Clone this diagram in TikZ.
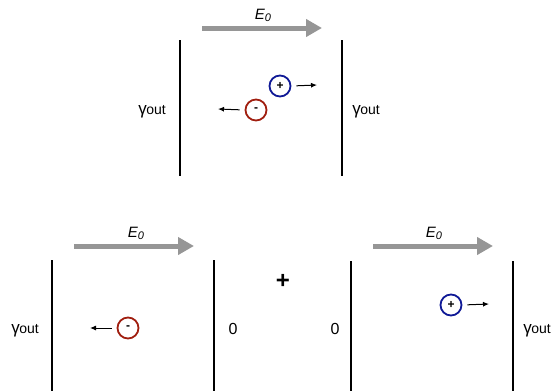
\documentclass[tikz,border=0pt]{standalone}
\usepackage{fontspec}
\setmainfont{Liberation Sans}
\usetikzlibrary{arrows.meta}
\definecolor{negred}{RGB}{160,30,15}
\definecolor{posblue}{RGB}{15,25,150}
\definecolor{fieldgray}{RGB}{150,150,150}
\newcommand{\gout}{{\fontsize{17}{17}\selectfont γ}\kern-0.5pt out}

\begin{document}
\begin{tikzpicture}[x=1pt,y=-1pt,plate/.style={line width=2pt},field/.style={line width=5pt,draw=fieldgray,-{Triangle[length=16pt,width=17pt]}},charge/.style={shape=circle,line width=1.8pt,minimum size=21pt,inner sep=0pt,font=\fontsize{12}{12}\selectfont\bfseries},chargeN/.style={charge,draw=negred},chargeP/.style={charge,draw=posblue},drift/.style={line width=1pt,-{Latex[length=6pt,width=5pt]}},lbl/.style={font=\fontsize{14}{16}\selectfont},efield/.style={font=\fontsize{15}{17}\selectfont\itshape}]
\def\dx{162};
\def\len{120};
\def\xa{180};
\def\xb{52};
\def\xc{351};

\useasboundingbox (0,0) rectangle (553,391);

% top: both boundaries absorbing
\draw[plate] (\xa,40) -- (\xa,176);
\draw[plate] (\xa+\dx,40) -- (\xa+\dx,176);
\coordinate (Ea1) at (\xa+22,28);
\coordinate (Ea2) at (\xa+22+\len,28);
\draw[field] (Ea1) -- (Ea2);
\node[efield] (EA) at (\xa+83,15) {E\raisebox{-2pt}{\fontsize{11}{11}\selectfont 0}};
\node[lbl] (GA1) at (152,112) {\gout};
\node[lbl] (GA2) at (366,112) {\gout};

\node[chargeP] (P1) at (280,86) {+};
\coordinate (P1v) at (317,85);
\draw[drift,shorten <=5pt] (P1.east) -- (P1v);
\node[chargeN] (N1) at (256,110) {-};
\coordinate (N1v) at (218,109);
\draw[drift,shorten <=5pt] (N1.west) -- (N1v);

% bottom left: only negative charge
\draw[plate] (\xb,260) -- (\xb,391);
\draw[plate] (\xb+\dx,260) -- (\xb+\dx,391);
\coordinate (Eb1) at (\xb+22,246);
\coordinate (Eb2) at (\xb+22+\len,246);
\draw[field] (Eb1) -- (Eb2);
\node[efield] (EB) at (\xb+84,233) {E\raisebox{-2pt}{\fontsize{11}{11}\selectfont 0}};
\node[lbl] (GB) at (25,331) {\gout};
\node[lbl,font=\fontsize{16}{18}\selectfont] (ZB) at (233,329) {0};

\node[chargeN] (N2) at (128,328) {-};
\coordinate (N2v) at (90,328);
\draw[drift,shorten <=5pt] (N2.west) -- (N2v);

\node[font=\fontsize{24}{24}\selectfont\bfseries] (PLUS) at (283,281) {+};

% bottom right: only positive charge
\draw[plate] (\xc,261) -- (\xc,391);
\draw[plate] (\xc+\dx,261) -- (\xc+\dx,391);
\coordinate (Ec1) at (\xc+22,246);
\coordinate (Ec2) at (\xc+22+\len,246);
\draw[field] (Ec1) -- (Ec2);
\node[efield] (EC) at (\xc+83,233) {E\raisebox{-2pt}{\fontsize{11}{11}\selectfont 0}};
\node[lbl,font=\fontsize{16}{18}\selectfont] (ZC) at (335,329) {0};
\node[lbl] (GC) at (537,331) {\gout};

\node[chargeP] (P2) at (451,305) {+};
\coordinate (P2v) at (489,304);
\draw[drift,shorten <=5pt] (P2.east) -- (P2v);
\end{tikzpicture}
\end{document}
